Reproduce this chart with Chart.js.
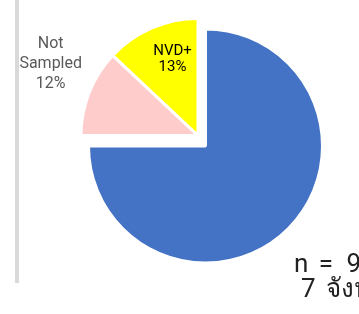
<!DOCTYPE html>
<html>
<head>
<meta charset="utf-8">
<script src="https://cdn.jsdelivr.net/npm/chart.js@4"></script>
<style>
    html, body { margin: 0; padding: 0; background: #fff; overflow: hidden; }
    body { width: 359px; height: 314px; position: relative; }
    .layer { position: absolute; left: 0; top: 0; width: 359px; height: 314px; }
    .rule { position: absolute; left: 15px; top: 0; width: 4px; height: 283px; background: #d9d9d9; }
    .note { position: absolute; font-family: Roboto, sans-serif; font-size: 26px; line-height: 26px; color: #222222; white-space: nowrap; word-spacing: 4px; }
</style>
</head>
<body>
<div class="rule"></div>
<div class="layer"><canvas id="bigSlice" width="359" height="314"></canvas></div>
<div class="layer"><canvas id="smallSlices" width="359" height="314"></canvas></div>
<div class="note" style="left:294px; top:250px;">n = <span style="margin-left:3px">9</span></div>
<div class="note" style="left:301px; top:275px;">7 จังหวัด</div>
<script>
const categories = ['NVD-', 'Not Sampled', 'NVD+'];
const shares = [75, 12, 13];
const sliceColors = ['#4472C4', '#FFCCCC', '#FFFF00'];
const pulledOut = [true, false, false];   // the big slice sits apart from the others

// where each label sits: fraction of the radius along the slice middle, then a nudge
const labelLines = [null, ['Not', 'Sampled', '12%'], ['NVD+', '13%']];
const labelDist = [0, 1.4, 0.72];
const labelNudge = [[0, 0], [5, -11], [8, 1]];

const sliceLabels = {
    id: 'sliceLabels',
    afterDatasetsDraw(chart) {
        const ctx = chart.ctx;
        const arcs = chart.getDatasetMeta(0).data;
        arcs.forEach((arc, i) => {
            const lines = labelLines[i];
            if (!lines) return;
            const p = arc.getProps(['x', 'y', 'startAngle', 'endAngle', 'outerRadius'], true);
            const mid = (p.startAngle + p.endAngle) / 2;
            const d = p.outerRadius * labelDist[i];
            const cx = p.x + Math.cos(mid) * d + labelNudge[i][0];
            const cy = p.y + Math.sin(mid) * d + labelNudge[i][1];
            const outside = labelDist[i] > 1;
            const lh = outside ? 20 : 16;
            ctx.save();
            ctx.font = (outside ? '16px' : '15px') + ' Roboto, sans-serif';
            ctx.fillStyle = outside ? '#595959' : '#000000';
            ctx.textAlign = 'center';
            ctx.textBaseline = 'middle';
            lines.forEach((t, k) => {
                ctx.fillText(t, cx, cy + (k - (lines.length - 1) / 2) * lh);
            });
            ctx.restore();
        });
    }
};

// one pie per layer: each layer shows only its own slices, the rest stay transparent
function makePie(canvasId, showPulled, padding, extraPlugins) {
    const fill = sliceColors.map((c, i) => pulledOut[i] === showPulled ? c : 'rgba(0,0,0,0)');
    const edge = sliceColors.map((c, i) => pulledOut[i] === showPulled ? '#ffffff' : 'rgba(0,0,0,0)');
    return new Chart(document.getElementById(canvasId), {
        type: 'pie',
        data: {
            labels: categories,
            datasets: [{
                data: shares,
                backgroundColor: fill,
                borderColor: edge,
                borderWidth: 3,
                hoverOffset: 0
            }]
        },
        options: {
            responsive: false,
            animation: false,
            radius: 117,
            layout: { padding: padding },
            events: [],
            plugins: {
                legend: { display: false },
                tooltip: { enabled: false }
            }
        },
        plugins: extraPlugins
    });
}

makePie('bigSlice', true, { left: 52, right: 0, top: 0, bottom: 22 }, []);
makePie('smallSlices', false, { left: 37, right: 0, top: 0, bottom: 43 }, [sliceLabels]);
</script>
</body>
</html>
